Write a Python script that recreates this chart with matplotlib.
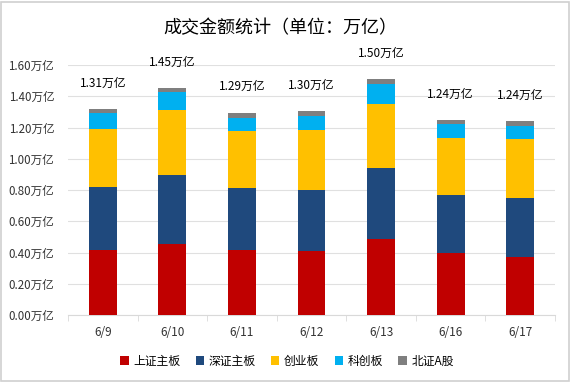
import matplotlib
matplotlib.use("Agg")
import matplotlib.pyplot as plt
from matplotlib.patches import Rectangle
import numpy as np

plt.rcParams['font.family'] = ['Noto Sans CJK SC', 'DejaVu Sans']

categories = ["6/9", "6/10", "6/11", "6/12", "6/13", "6/16", "6/17"]
series_names = ["上证主板", "深证主板", "创业板", "科创板", "北证A股"]
sh_main = [0.416, 0.452, 0.416, 0.410, 0.486, 0.399, 0.373]
sz_main = [0.405, 0.444, 0.397, 0.390, 0.455, 0.367, 0.376]
chinext = [0.369, 0.416, 0.365, 0.384, 0.409, 0.369, 0.379]
star = [0.100, 0.113, 0.085, 0.092, 0.126, 0.085, 0.084]
bse = [0.027, 0.028, 0.032, 0.030, 0.034, 0.028, 0.030]
total_labels = ["1.31万亿", "1.45万亿", "1.29万亿", "1.30万亿", "1.50万亿", "1.24万亿", "1.24万亿"]
yticks = [0.0, 0.2, 0.4, 0.6, 0.8, 1.0, 1.2, 1.4, 1.6]
title = "成交金额统计（单位：万亿）"

colors = ["#C00000", "#1F497D", "#FFC000", "#00B0F0", "#7F7F7F"]

W, H = 571, 382
fig = plt.figure(figsize=(W / 100, H / 100), dpi=100)
ax = fig.add_axes([68 / W, 1 - 315 / H, (555 - 68) / W, (315 - 65) / H])

x = np.arange(len(categories))
bottom = np.zeros(len(categories))
for vals, name, c in zip([sh_main, sz_main, chinext, star, bse], series_names, colors):
    ax.bar(x, vals, width=0.4, bottom=bottom, color=c, label=name, zorder=3)
    bottom = bottom + np.array(vals)

for xi, top, lab in zip(x, bottom, total_labels):
    ax.annotate(lab, (xi, top), xytext=(0, 14), textcoords="offset points",
                ha="center", va="bottom", fontsize=8.5, color="#000000")

ax.set_xlim(-0.5, len(categories) - 0.5)
ax.set_ylim(0, 1.6)
ax.set_yticks(yticks)
ax.set_yticklabels([f"{v:.2f}万亿" for v in yticks], fontsize=8.3, color="#333333")
ax.set_xticks(x)
ax.set_xticklabels(categories, fontsize=8.5, color="#333333")
ax.set_xticks(np.arange(len(categories) + 1) - 0.5, minor=True)
ax.tick_params(axis="x", which="major", length=0, pad=8)
ax.tick_params(axis="x", which="minor", length=4, color="#d9d9d9", direction="out")
ax.tick_params(axis="y", length=0, pad=10)
ax.yaxis.grid(True, color="#e0e0e0", linewidth=0.8, zorder=0)
for s in ["top", "right", "left"]:
    ax.spines[s].set_visible(False)
ax.spines["bottom"].set_color("#d9d9d9")

fig.text(280 / W, 1 - 28 / H, title, ha="center", va="center", fontsize=13, color="#000000")

leg = fig.legend(loc="center", bbox_to_anchor=(287 / W, 1 - 361 / H), ncol=5, frameon=False,
                 fontsize=8.5, handlelength=0.7, handleheight=0.7, handletextpad=0.4,
                 columnspacing=1.3)

fig.patches.append(Rectangle((1 / W, 1 / H), (W - 3) / W, (H - 3) / H, transform=fig.transFigure,
                             fill=False, edgecolor="#d0d0d0", linewidth=1.2))

fig.savefig("out.png", dpi=100)
